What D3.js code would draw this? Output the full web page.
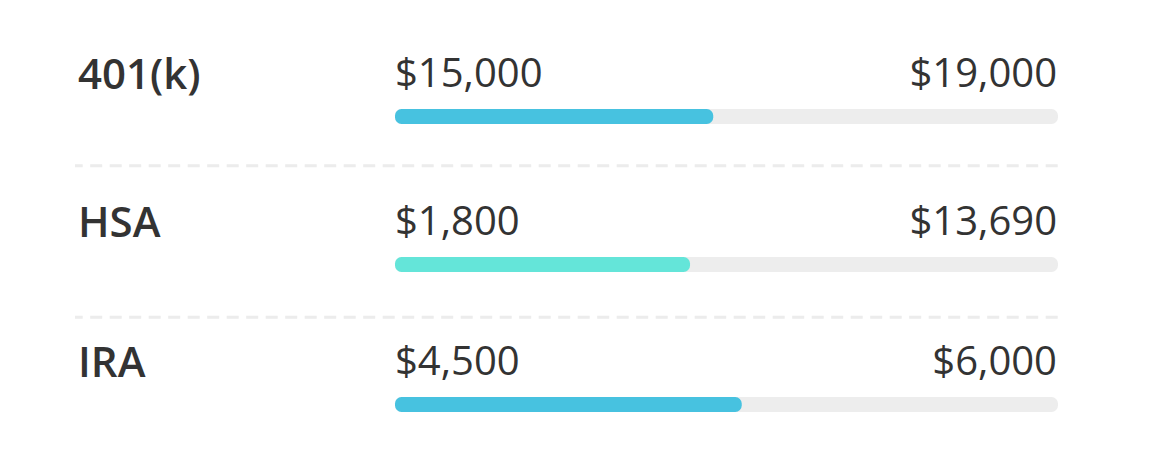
<!DOCTYPE html>
<html><head><meta charset="utf-8">
<script src="https://cdn.jsdelivr.net/npm/d3@7"></script>
<style>html,body{margin:0;padding:0;background:#fff;}svg{display:block;}</style>
</head><body>
<svg id="c" width="1152" height="461"></svg>
<script>
// Data
const categories = ["401(k)", "HSA", "IRA"];
const currentLabels = ["$15,000", "$1,800", "$4,500"];
const limitLabels = ["$19,000", "$13,690", "$6,000"];
const progress = [0.48, 0.445, 0.523];
const barColors = ["#47C2E0", "#64E5D9", "#47C2E0"];

// Layout
const barTops = [109, 257, 397];
const sepYs = [165.7, 317.3];
const barH = 15;
const svg = d3.select("#c");
const x = d3.scaleLinear().domain([0, 1]).range([395, 1058]);
const font = "'Open Sans', sans-serif";

sepYs.forEach(y => {
  svg.append("line").attr("x1", 75).attr("x2", 1060).attr("y1", y).attr("y2", y)
    .attr("stroke", "#ececec").attr("stroke-width", 3)
    .attr("stroke-dasharray", "12,7.5").attr("stroke-dashoffset", 4.3);
});

const rows = svg.selectAll("g.row").data(categories).join("g").attr("class", "row");

rows.append("rect").attr("x", x(0)).attr("y", (d, i) => barTops[i])
  .attr("width", x(1) - x(0)).attr("height", barH).attr("rx", 6.5).attr("fill", "#ededed");
rows.append("rect").attr("x", x(0)).attr("y", (d, i) => barTops[i])
  .attr("width", (d, i) => x(progress[i]) - x(0)).attr("height", barH).attr("rx", 6.5)
  .attr("fill", (d, i) => barColors[i]);

rows.append("text").attr("x", 78).attr("y", (d, i) => barTops[i] - 20.5)
  .attr("font-family", "'Open Sans SemiBold', 'Open Sans', sans-serif").attr("font-weight", 600).attr("font-size", 42)
  .attr("fill", "#333").text(d => d);
rows.append("text").attr("x", 395).attr("y", (d, i) => barTops[i] - 22.5)
  .attr("font-family", font).attr("font-size", 40).attr("fill", "#333")
  .text((d, i) => currentLabels[i]);
rows.append("text").attr("x", 1057).attr("y", (d, i) => barTops[i] - 22.5)
  .attr("text-anchor", "end")
  .attr("font-family", font).attr("font-size", 40).attr("fill", "#333")
  .text((d, i) => limitLabels[i]);
</script>
</body></html>
